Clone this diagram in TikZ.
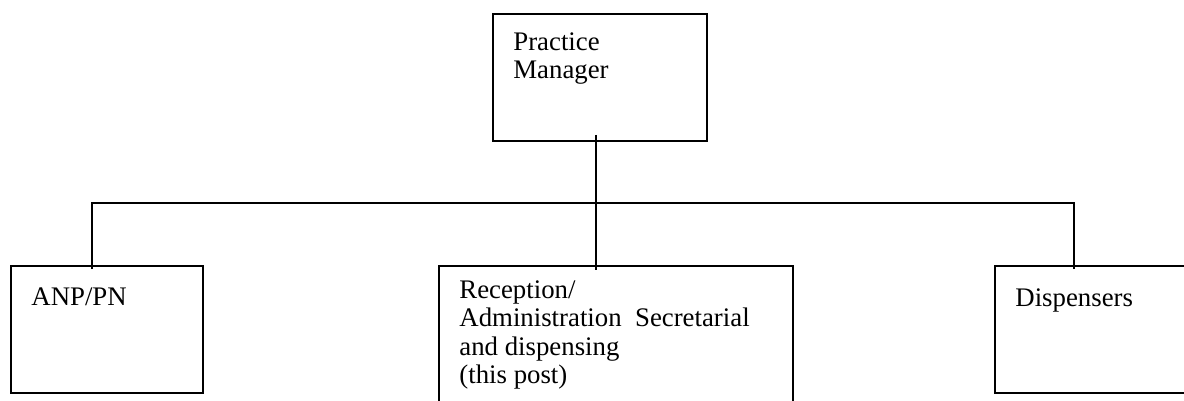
\documentclass[tikz,border=0pt]{standalone}
\usepackage{fontspec}
\setmainfont{Liberation Serif}
\usetikzlibrary{positioning, calc}

\begin{document}
\begin{tikzpicture}[
    x=0.5pt, y=-0.5pt,
    every node/.style={font=\fontsize{13.4}{14.1}\selectfont, align=left},
    box/.style={
        draw, line width=1pt, anchor=north west, inner sep=0pt
    },
    txt/.style={anchor=north west, inner sep=0pt},
    line/.style={line width=1pt}
]
\clip (0,0) rectangle (1184,401);

% --- Top: Practice Manager ---
\node[box, minimum width=107pt, minimum height=63.5pt] (mgr) at (492,13) {};
\node[txt] (mgrtxt) at (513,32) {Practice\\Manager};

% --- Bottom row: three posts ---
\node[box, minimum width=96pt, minimum height=63.5pt] (anp) at (10,265) {};
\node[txt] (anptxt) at (31,287) {ANP/PN};

\node[box, minimum width=177pt, minimum height=80pt] (rec) at (438,265) {};
\node[txt] (rectxt) at (459,280.5) {Reception/\\Administration~ Secretarial\\and dispensing\\(this post)};

\node[box, minimum width=110pt, minimum height=63.5pt] (disp) at (994,265) {};
\node[txt] (disptxt) at (1015,288) {Dispensers};

% --- Connectors ---
\coordinate (busL) at (92,203);
\coordinate (busR) at (1074,203);
\coordinate (trunk) at (596,203);

\draw[line] ([yshift=3.5pt]mgr.south -| trunk) -- ([yshift=-2.5pt]rec.north -| trunk);
\draw[line] ([yshift=-2pt]anp.north -| busL) -- (busL) -- (busR)
    -- ([yshift=-2pt]disp.north -| busR);

\end{tikzpicture}
\end{document}
